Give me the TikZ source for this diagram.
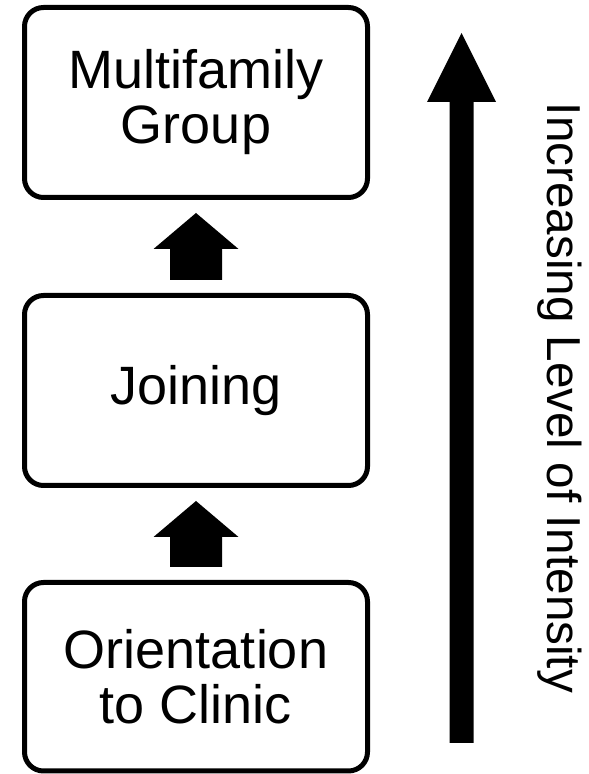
\documentclass[tikz,border=0pt]{standalone}
\usepackage{fontspec}
\setmainfont{Liberation Sans}
\usetikzlibrary{calc}
\tikzset{
  stagebox/.style={draw=black, line width=5pt, rounded corners=19pt, fill=white,
    minimum width=343pt, inner sep=0pt, align=center,
    font=\fontsize{54}{55}\selectfont},
  blockarrow/.style={fill=black},
}
\begin{document}
\begin{tikzpicture}[x=1pt,y=1pt]
\useasboundingbox (0,0) rectangle (589,774);
\node[stagebox, minimum height=190pt] (b1) at (196,671.5) {Multifamily\\Group};
\node[stagebox, minimum height=190pt] (b2) at (196,383.5) {Joining};
\node[stagebox, minimum height=188.5pt] (b3) at (196,97.25) {Orientation\\to Clinic};
% block arrows between stages
\fill[blockarrow] let \p1=(b1.south), \p2=(b2.north) in
  (\x1,\y1-13pt) -- (\x1+42.5pt,\y1-49pt) -- (\x1+26pt,\y1-49pt) -- (\x1+26pt,\y2+13pt)
  -- (\x1-26pt,\y2+13pt) -- (\x1-26pt,\y1-49pt) -- (\x1-42.5pt,\y1-49pt) -- cycle;
\fill[blockarrow] let \p1=(b2.south), \p2=(b3.north) in
  (\x1,\y1-13pt) -- (\x1+42.5pt,\y1-49pt) -- (\x1+26pt,\y1-49pt) -- (\x1+26pt,\y2+13pt)
  -- (\x1-26pt,\y2+13pt) -- (\x1-26pt,\y1-49pt) -- (\x1-42.5pt,\y1-49pt) -- cycle;
% intensity arrow
\coordinate (itop) at (461.5,741);
\coordinate (ibot) at (461.5,31);
\fill[blockarrow] let \p1=(itop), \p2=(ibot) in
  (\x1,\y1) -- (\x1+34.5pt,\y1-69pt) -- (\x1+12pt,\y1-69pt) -- (\x1+12pt,\y2)
  -- (\x1-12pt,\y2) -- (\x1-12pt,\y1-69pt) -- (\x1-34.5pt,\y1-69pt) -- cycle;
\node[rotate=-90, anchor=base, inner sep=0pt, font=\fontsize{47.6}{50}\selectfont] (lbl) at (547,376) {Increasing Level of Intensity};
\end{tikzpicture}
\end{document}
